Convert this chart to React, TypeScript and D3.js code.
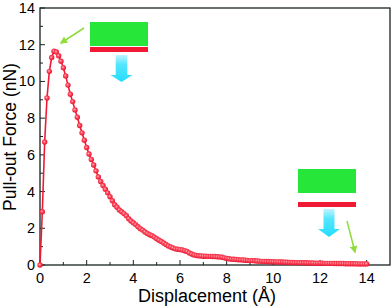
import React from "react";
import * as d3 from "d3";

const displacement: number[] = [
  0.0, 0.1, 0.2, 0.3, 0.4, 0.5, 0.6, 0.7, 0.8, 0.9,
  1.0, 1.1, 1.2, 1.3, 1.4, 1.5, 1.6, 1.7, 1.8, 1.9,
  2.0, 2.1, 2.2, 2.3, 2.4, 2.5, 2.6, 2.7, 2.8, 2.9,
  3.0, 3.1, 3.2, 3.3, 3.4, 3.5, 3.6, 3.7, 3.8, 3.9,
  4.0, 4.1, 4.2, 4.3, 4.4, 4.5, 4.6, 4.7, 4.8, 4.9,
  5.0, 5.1, 5.2, 5.3, 5.4, 5.5, 5.6, 5.7, 5.8, 5.9,
  6.0, 6.1, 6.2, 6.3, 6.4, 6.5, 6.6, 6.7, 6.8, 6.9,
  7.0, 7.1, 7.2, 7.3, 7.4, 7.5, 7.6, 7.7, 7.8, 7.9,
  8.0, 8.1, 8.2, 8.3, 8.4, 8.5, 8.6, 8.7, 8.8, 8.9,
  9.0, 9.1, 9.2, 9.3, 9.4, 9.5, 9.6, 9.7, 9.8, 9.9,
  10.0, 10.1, 10.2, 10.3, 10.4, 10.5, 10.6, 10.7, 10.8, 10.9,
  11.0, 11.1, 11.2, 11.3, 11.4, 11.5, 11.6, 11.7, 11.8, 11.9,
  12.0, 12.1, 12.2, 12.3, 12.4, 12.5, 12.6, 12.7, 12.8, 12.9,
  13.0, 13.1, 13.2, 13.3, 13.4, 13.5, 13.6, 13.7, 13.8, 13.9,
  14.0,
];

const force: number[] = [
  0, 2.9, 6.7, 9.1, 10.55, 11.3, 11.65, 11.6, 11.4, 11.1,
  10.75, 10.3, 9.8, 9.3, 8.9, 8.45, 8.05, 7.6, 7.2, 6.8,
  6.4, 6.05, 5.75, 5.45, 5.13, 4.8, 4.55, 4.33, 4.13, 3.93,
  3.72, 3.5, 3.28, 3.15, 3.0, 2.9, 2.8, 2.68, 2.52, 2.4,
  2.3, 2.2, 2.08, 1.98, 1.9, 1.8, 1.72, 1.65, 1.6, 1.52,
  1.43, 1.35, 1.28, 1.2, 1.12, 1.04, 0.98, 0.93, 0.88, 0.86,
  0.84, 0.82, 0.78, 0.74, 0.66, 0.6, 0.55, 0.52, 0.5, 0.49,
  0.48, 0.48, 0.47, 0.47, 0.46, 0.46, 0.45, 0.44, 0.42, 0.39,
  0.36, 0.34, 0.32, 0.31, 0.3, 0.29, 0.28, 0.27, 0.26, 0.25,
  0.24, 0.24, 0.23, 0.22, 0.21, 0.2, 0.2, 0.19, 0.19, 0.18,
  0.18, 0.17, 0.17, 0.16, 0.16, 0.15, 0.15, 0.14, 0.14, 0.13,
  0.13, 0.13, 0.12, 0.12, 0.12, 0.11, 0.11, 0.11, 0.1, 0.1,
  0.1, 0.1, 0.09, 0.09, 0.09, 0.09, 0.08, 0.08, 0.08, 0.08,
  0.08, 0.07, 0.07, 0.07, 0.07, 0.07, 0.06, 0.06, 0.06, 0.06,
  0.06,
];

const xMajorTicks: number[] = [0, 2, 4, 6, 8, 10, 12, 14];
const xMinorTicks: number[] = [1, 3, 5, 7, 9, 11, 13];
const yMajorTicks: number[] = [0, 2, 4, 6, 8, 10, 12, 14];
const yMinorTicks: number[] = [1, 3, 5, 7, 9, 11, 13];

const xTitle = "Displacement (Å)";
const yTitle = "Pull-out Force (nN)";

const W = 392;
const H = 308;
const left = 40;
const right = 390;
const top = 8;
const bottom = 265;

export default function App() {
  const x = d3.scaleLinear().domain([0, 15]).range([left, right]);
  const y = d3.scaleLinear().domain([0, 14]).range([bottom, top]);
  const data = displacement.map((d, i) => ({ x: d, y: force[i] }));
  const line = d3
    .line<{ x: number; y: number }>()
    .x((d) => x(d.x))
    .y((d) => y(d.y));

  const font = "'Liberation Sans', Arial, sans-serif";
  const red = "#f01a35";
  const green = "#27e63a";
  const lime = "#8fdc3a";
  const axisColor = "#1a2222";

  const arrowDown = (cx: number, y0: number, y1: number, y2: number, sw: number, hw: number) =>
    `M${cx - sw},${y0} L${cx + sw},${y0} L${cx + sw},${y1} L${cx + hw},${y1} L${cx},${y2} L${cx - hw},${y1} L${cx - sw},${y1} Z`;

  return (
    <svg
      width={W}
      height={H}
      style={{ position: "absolute", left: 0, top: 0, background: "#fff" }}
    >
      <defs>
        <radialGradient id="ball" cx="42%" cy="42%" r="60%">
          <stop offset="0%" stopColor="#ffb8c2" />
          <stop offset="40%" stopColor="#ff4a5e" />
          <stop offset="100%" stopColor="#e4102a" />
        </radialGradient>
        <linearGradient id="cyanShaft" x1="0" y1="0" x2="0" y2="1">
          <stop offset="0%" stopColor="#bff4ff" />
          <stop offset="35%" stopColor="#55e6ff" />
          <stop offset="100%" stopColor="#22dcff" />
        </linearGradient>
        <marker id="limeHead" viewBox="0 0 10 10" refX="8" refY="5" markerWidth="5" markerHeight="5" orient="auto">
          <path d="M0,0 L10,5 L0,10 Z" fill={lime} />
        </marker>
      </defs>

      {/* frame */}
      <rect x={left} y={top} width={right - left} height={bottom - top} fill="none" stroke={axisColor} strokeWidth={1.3} />

      {/* ticks */}
      {xMajorTicks.map((t) => (
        <g key={"xm" + t}>
          <line x1={x(t)} x2={x(t)} y1={bottom} y2={bottom - 5} stroke={axisColor} strokeWidth={1} />
          <text x={x(t)} y={bottom + 18} textAnchor="middle" fontFamily={font} fontSize={14.5}>
            {t}
          </text>
        </g>
      ))}
      {xMinorTicks.map((t) => (
        <line key={"xn" + t} x1={x(t)} x2={x(t)} y1={bottom} y2={bottom - 3} stroke={axisColor} strokeWidth={1} />
      ))}
      {yMajorTicks.map((t) => (
        <g key={"ym" + t}>
          <line x1={left} x2={left + 5} y1={y(t)} y2={y(t)} stroke={axisColor} strokeWidth={1} />
          <text x={left - 5} y={y(t) + 5} textAnchor="end" fontFamily={font} fontSize={14.5}>
            {t}
          </text>
        </g>
      ))}
      {yMinorTicks.map((t) => (
        <line key={"yn" + t} x1={left} x2={left + 3} y1={y(t)} y2={y(t)} stroke={axisColor} strokeWidth={1} />
      ))}

      {/* titles */}
      <text x={207} y={302} textAnchor="middle" fontFamily={font} fontSize={18}>
        {xTitle}
      </text>
      <text
        transform={`translate(16,137) rotate(-90)`}
        textAnchor="middle"
        fontFamily={font}
        fontSize={17.5}
      >
        {yTitle}
      </text>

      {/* data */}
      <path d={line(data) || ""} fill="none" stroke={red} strokeWidth={1.6} />
      {data.map((d, i) => (
        <circle key={i} cx={x(d.x)} cy={y(d.y)} r={2.7} fill="url(#ball)" />
      ))}

      {/* top inset */}
      <rect x={90} y={22} width={58} height={24} fill={green} />
      <rect x={90} y={47} width={58} height={5} fill={red} />
      <path d={arrowDown(121.5, 55, 75, 82, 5.8, 11)} fill="url(#cyanShaft)" />
      <line x1={84} y1={28} x2={61} y2={43} stroke={lime} strokeWidth={1.5} markerEnd="url(#limeHead)" />

      {/* bottom inset */}
      <rect x={298} y={169} width={58} height={24} fill={green} />
      <rect x={298} y={202} width={58} height={5} fill={red} />
      <path d={arrowDown(329, 209, 229, 237, 5.5, 11)} fill="url(#cyanShaft)" />
      <line x1={347} y1={221} x2={355} y2={252} stroke={lime} strokeWidth={1.5} markerEnd="url(#limeHead)" />
    </svg>
  );
}
